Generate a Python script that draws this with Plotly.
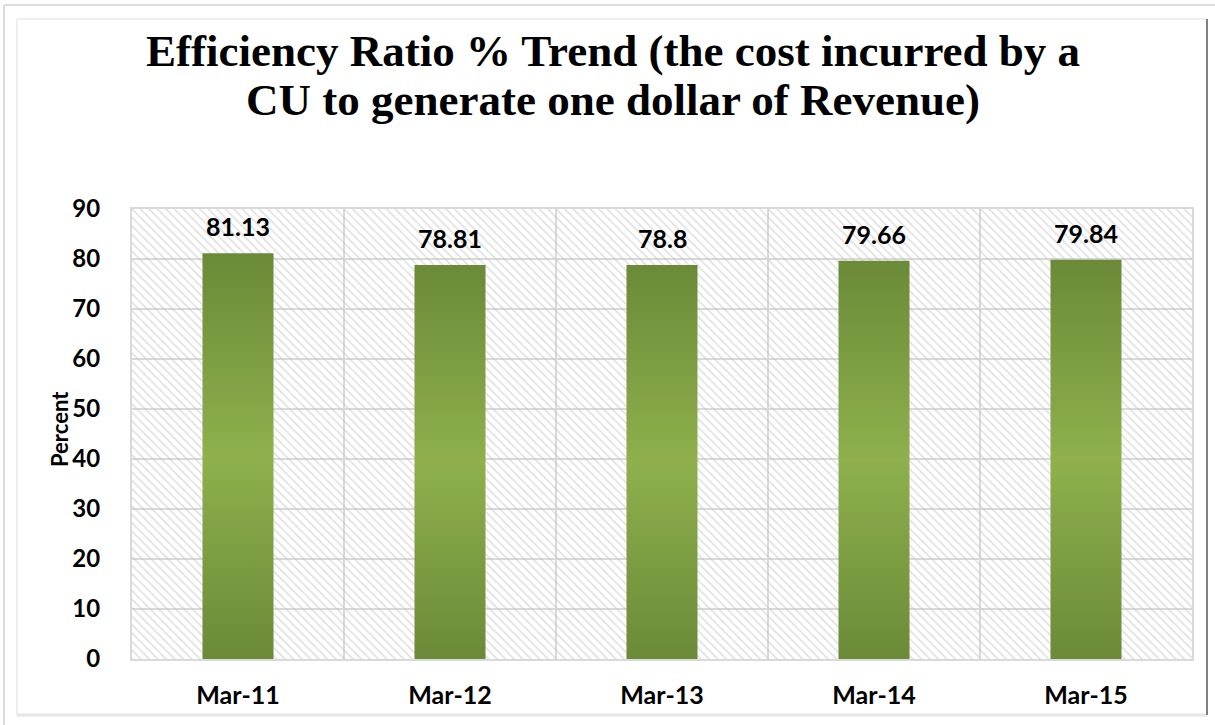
import plotly.graph_objects as go

# Efficiency ratio by fiscal year end
periods = ["Mar-11", "Mar-12", "Mar-13", "Mar-14", "Mar-15"]
efficiency = [81.13, 78.81, 78.8, 79.66, 79.84]
y_ticks = [0, 10, 20, 30, 40, 50, 60, 70, 80, 90]
y_title = "Percent"
title_lines = [
    "Efficiency Ratio % Trend (the cost incurred by a",
    "CU to generate one dollar of Revenue)",
]

W, H = 1215, 725
ML, MR, MT, MB = 132, 23, 209, 66
PW, PH = W - ML - MR, H - MT - MB

LABEL_FONT = "Lato"
TITLE_FONT = "Liberation Serif"
BAR_WIDTH = 0.335
GREEN_DARK = "#6b8a38"
GREEN_LIGHT = "#8fb04d"


def px_x(px):
    return (px - ML) / PW


def px_y(py):
    return (H - MB - py) / PH


fig = go.Figure()

# hatched plot background, one tile per category slot
fig.add_trace(go.Bar(
    x=list(range(len(periods))),
    y=[max(y_ticks)] * len(periods),
    width=1.0,
    marker=dict(
        color="rgba(0,0,0,0)",
        line=dict(width=0),
        pattern=dict(shape="\\", fgcolor="#c4c4c4", bgcolor="rgba(0,0,0,0)",
                     size=6, solidity=0.3),
    ),
    hoverinfo="skip",
    showlegend=False,
))

# gradient-filled columns
for i, v in enumerate(efficiency):
    x0, x1 = i - BAR_WIDTH / 2, i + BAR_WIDTH / 2
    fig.add_trace(go.Scatter(
        x=[x0, x1, x1, x0, x0],
        y=[0, 0, v, v, 0],
        mode="lines",
        fill="toself",
        line=dict(width=0, color=GREEN_DARK),
        fillgradient=dict(
            type="vertical",
            colorscale=[[0, GREEN_DARK], [0.5, GREEN_LIGHT], [1, GREEN_DARK]],
        ),
        hoverinfo="skip",
        showlegend=False,
    ))
    fig.add_annotation(
        x=i, y=v, text=f"<b>{v:g}</b>", showarrow=False,
        yanchor="bottom", yshift=10,
        font=dict(family=LABEL_FONT, size=25, color="#000000"),
    )

fig.update_xaxes(
    range=[-0.5, len(periods) - 0.5],
    tickvals=list(range(len(periods))),
    ticktext=[f"<b>{p}</b>" for p in periods],
    tickfont=dict(family=LABEL_FONT, size=25, color="#000000"),
    ticks="",
    showgrid=False,
    zeroline=False,
    showline=True, mirror=True, linecolor="#d9d9d9", linewidth=2,
    ticklabelstandoff=13,
    minor=dict(tickvals=[i - 0.5 for i in range(len(periods) + 1)],
               showgrid=True, gridcolor="#d9d9d9", gridwidth=2, ticks=""),
    fixedrange=True,
)
fig.update_yaxes(
    range=[0, max(y_ticks)],
    tickvals=y_ticks,
    ticktext=[f"<b>{t}</b>" for t in y_ticks],
    tickfont=dict(family=LABEL_FONT, size=24, color="#000000"),
    ticks="",
    showgrid=True, gridcolor="#d9d9d9", gridwidth=2,
    zeroline=False,
    showline=True, mirror=True, linecolor="#d9d9d9", linewidth=2,
    ticklabelstandoff=25,
    fixedrange=True,
)

# y-axis title
fig.add_annotation(
    xref="paper", yref="paper",
    x=px_x(59), y=px_y(429),
    xanchor="center", yanchor="middle",
    text=f"<b>{y_title}</b>", textangle=-90, showarrow=False,
    font=dict(family=LABEL_FONT, size=22, color="#000000"),
)

# chart title, one annotation per line
for text, top in zip(title_lines, [24, 73]):
    fig.add_annotation(
        xref="paper", yref="paper",
        x=px_x(612.5), y=px_y(top),
        xanchor="center", yanchor="top",
        text=f"<b>{text}</b>",
        showarrow=False,
        font=dict(family=TITLE_FONT, size=45, color="#000000"),
    )

# outer and inner chart frames
frame = [
    dict(x0=4, y0=5, x1=1218, y1=5, color="#dcdcdc", width=2),
    dict(x0=4, y0=5, x1=4, y1=730, color="#dcdcdc", width=2),
    dict(x0=17, y0=19, x1=1207, y1=19, color="#eeeeee", width=2),
    dict(x0=17, y0=19, x1=17, y1=715, color="#eeeeee", width=2),
    dict(x0=17, y0=715, x1=1207, y1=715, color="#e6e6e6", width=3),
    dict(x0=1207, y0=19, x1=1207, y1=715, color="#7f7f7f", width=2),
]
for f in frame:
    fig.add_shape(type="line", xref="paper", yref="paper",
                  x0=px_x(f["x0"]), y0=px_y(f["y0"]), x1=px_x(f["x1"]), y1=px_y(f["y1"]),
                  line=dict(color=f["color"], width=f["width"]), layer="above")

fig.update_layout(
    width=W, height=H,
    margin=dict(l=ML, r=MR, t=MT, b=MB),
    paper_bgcolor="#ffffff",
    plot_bgcolor="#ffffff",
    showlegend=False,
    barmode="overlay",
)

fig.write_html("out.html", config={"displayModeBar": False})
